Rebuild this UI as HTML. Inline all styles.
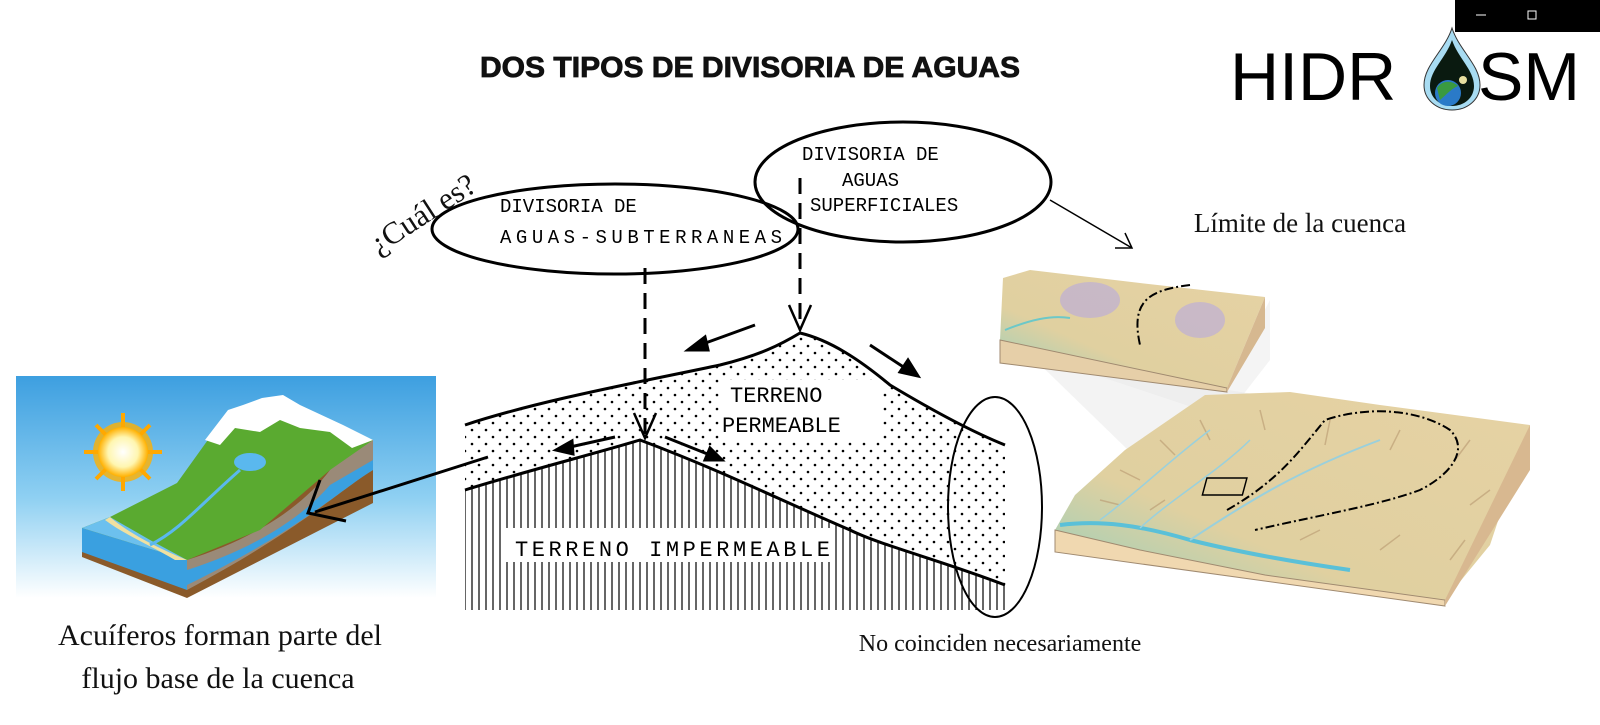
<!DOCTYPE html>
<html><head><meta charset="utf-8"><style>
html,body{margin:0;padding:0;background:#fff;width:1600px;height:725px;overflow:hidden}
svg{display:block}
</style></head><body>
<svg width="1600" height="725" viewBox="0 0 1600 725" xmlns="http://www.w3.org/2000/svg">
<defs>
<pattern id="dots" width="14" height="14" patternUnits="userSpaceOnUse">
<circle cx="3" cy="3" r="1.3" fill="#000"/><circle cx="10" cy="10" r="1.3" fill="#000"/>
</pattern>
<pattern id="vl" width="7" height="10" patternUnits="userSpaceOnUse">
<line x1="3" y1="0" x2="3" y2="10" stroke="#000" stroke-width="1.2"/>
</pattern>
<linearGradient id="sky" x1="0" y1="0" x2="0" y2="1">
<stop offset="0" stop-color="#3d9fe0"/><stop offset="0.55" stop-color="#8fd0f2"/><stop offset="1" stop-color="#ffffff"/>
</linearGradient>
<radialGradient id="sun"><stop offset="0" stop-color="#fff"/><stop offset="0.6" stop-color="#fff6b0"/><stop offset="1" stop-color="#ffb000"/></radialGradient>
<linearGradient id="terr" x1="0" y1="1" x2="1" y2="0">
<stop offset="0" stop-color="#8fd0c0"/><stop offset="0.35" stop-color="#e0d0a0"/><stop offset="1" stop-color="#e6d2a4"/>
</linearGradient>
</defs>

<rect x="1455" y="0" width="145" height="32" fill="#000"/>
<line x1="1476" y1="15" x2="1486" y2="15" stroke="#fff" stroke-width="1"/>
<rect x="1528" y="11" width="8" height="8" fill="none" stroke="#fff" stroke-width="1"/>

<text x="1230" y="100" font-family="Liberation Sans, sans-serif" font-size="68" fill="#000">HIDR</text>
<path d="M1452 28 C1445 50 1424 65 1424 85 C1424 100 1437 110 1452 110 C1467 110 1480 100 1480 85 C1480 65 1459 50 1452 28Z" fill="#a8dcf2" stroke="#333" stroke-width="1"/>
<path d="M1452 40 C1446 58 1430 70 1430 86 C1430 98 1440 106 1452 106 C1464 106 1474 98 1474 86 C1474 70 1458 58 1452 40Z" fill="#0a1a10"/>
<circle cx="1448" cy="93" r="13" fill="#2a7ac8"/><path d="M1437 88 C1442 80 1452 80 1458 86 C1452 88 1446 95 1440 100Z" fill="#3a9a40"/>
<circle cx="1463" cy="80" r="4" fill="#e8e0a0"/>
<text x="1478" y="100" font-family="Liberation Sans, sans-serif" font-size="68" fill="#000">SM</text>

<text x="750" y="77" text-anchor="middle" font-family="Liberation Sans, sans-serif" font-weight="bold" font-size="29" fill="#111" stroke="#111" stroke-width="0.8" textLength="540" lengthAdjust="spacingAndGlyphs">DOS TIPOS DE DIVISORIA DE AGUAS</text>

<rect x="16" y="376" width="420" height="222" fill="url(#sky)"/>
<circle cx="123" cy="452" r="30" fill="#ffb000" opacity="0.8"/>
<g stroke="#ffa800" stroke-width="4">
<line x1="123" y1="413" x2="123" y2="491"/><line x1="84" y1="452" x2="162" y2="452"/>
<line x1="96" y1="425" x2="150" y2="479"/><line x1="150" y1="425" x2="96" y2="479"/>
</g>
<circle cx="123" cy="452" r="25" fill="url(#sun)"/>
<polygon points="82,528 82,557 187,598 373,503 373,440 187,560" fill="#8a5a2a"/>
<polygon points="82,528 82,552 187,590 187,560" fill="#3aa0e0"/>
<path d="M187,560 C250,540 300,510 330,470 C345,450 360,445 373,440 L373,470 C340,490 300,530 187,590Z" fill="#9a8a78"/>
<path d="M187,570 C250,550 300,520 330,485 L373,460 L373,470 C340,490 300,530 187,585Z" fill="#3aa0e0"/>
<polygon points="82,528 110,517 177,483 210,437 243,407 283,397 343,427 373,440 330,470 260,530 187,560" fill="#5aaa30"/>
<polygon points="82,528 110,517 150,540 187,560" fill="#6cc0ee"/>
<path d="M110,517 C125,530 150,545 187,560 L175,560 C150,545 125,535 105,520Z" fill="#f0e0a0"/>
<polygon points="205,440 228,410 243,405 262,398 283,395 300,405 343,425 373,440 352,448 330,432 300,428 280,420 260,432 235,428 220,445" fill="#ffffff"/>
<ellipse cx="250" cy="462" rx="16" ry="9" fill="#5ab8ee"/>
<path d="M150,545 C180,530 200,505 240,470" stroke="#5ab8ee" stroke-width="3" fill="none"/>
<line x1="488" y1="457" x2="315" y2="512" stroke="#000" stroke-width="3"/>
<polyline points="320,480 308,513 346,521" fill="none" stroke="#000" stroke-width="3"/>

<text x="220" y="645" text-anchor="middle" font-family="Liberation Serif, serif" font-size="30" fill="#111">Acuíferos forman parte del</text>
<text x="218" y="688" text-anchor="middle" font-family="Liberation Serif, serif" font-size="30" fill="#111">flujo base de la cuenca</text>

<path d="M465,425 C540,400 650,380 720,365 C760,355 780,345 800,333 C830,340 860,360 890,385 C940,415 980,435 1005,445 L1005,585 C940,560 880,545 850,530 C780,500 720,470 640,440 C590,455 530,470 465,490Z" fill="url(#dots)"/>
<path d="M465,490 C530,470 590,455 640,440 C720,470 780,500 850,530 C880,545 940,560 1005,585 L1005,610 L465,610Z" fill="url(#vl)"/>
<path d="M465,425 C540,400 650,380 720,365 C760,355 780,345 800,333 C830,340 860,360 890,385 C940,415 980,435 1005,445" fill="none" stroke="#000" stroke-width="3"/>
<path d="M465,490 C530,470 590,455 640,440 C720,470 780,500 850,530 C880,545 940,560 1005,585" fill="none" stroke="#000" stroke-width="3"/>
<rect x="505" y="528" width="325" height="34" fill="#fff"/>
<text x="515" y="556" font-family="Liberation Mono, monospace" font-size="22" fill="#000" textLength="315" lengthAdjust="spacing">TERRENO  IMPERMEABLE</text>
<rect x="722" y="380" width="158" height="60" fill="#fff"/>
<text x="730" y="402" font-family="Liberation Mono, monospace" font-size="22" fill="#000">TERRENO</text>
<text x="722" y="432" font-family="Liberation Mono, monospace" font-size="22" fill="#000">PERMEABLE</text>
<g stroke="#000" stroke-width="3" fill="#000">
<line x1="755" y1="325" x2="700" y2="345"/><polygon points="688,350 705,337 708,350"/>
<line x1="870" y1="345" x2="905" y2="368"/><polygon points="918,376 900,372 908,360"/>
<line x1="615" y1="437" x2="570" y2="447"/><polygon points="556,450 572,441 573,454"/>
<line x1="665" y1="437" x2="710" y2="455"/><polygon points="722,460 705,460 710,448"/>
</g>
<line x1="645" y1="268" x2="645" y2="435" stroke="#000" stroke-width="3" stroke-dasharray="16,9"/>
<polyline points="634,413 645,438 656,413" fill="none" stroke="#000" stroke-width="2.5"/>
<line x1="800" y1="178" x2="800" y2="328" stroke="#000" stroke-width="3" stroke-dasharray="16,9"/>
<polyline points="789,305 800,330 811,305" fill="none" stroke="#000" stroke-width="2.5"/>

<ellipse cx="615" cy="229" rx="183" ry="45" fill="none" stroke="#000" stroke-width="3"/>
<text x="500" y="212" font-family="Liberation Mono, monospace" font-size="19" fill="#000">DIVISORIA   DE</text>
<text x="500" y="243" font-family="Liberation Mono, monospace" font-size="19" fill="#000" textLength="282">AGUAS-SUBTERRANEAS</text>
<ellipse cx="903" cy="182" rx="148" ry="60" fill="none" stroke="#000" stroke-width="3"/>
<text x="802" y="160" font-family="Liberation Mono, monospace" font-size="19" fill="#000">DIVISORIA  DE</text>
<text x="842" y="186" font-family="Liberation Mono, monospace" font-size="19" fill="#000">AGUAS</text>
<text x="810" y="211" font-family="Liberation Mono, monospace" font-size="19" fill="#000">SUPERFICIALES</text>

<text transform="translate(378,255) rotate(-33)" font-family="Liberation Serif, serif" font-size="31" fill="#111">¿Cuál es?</text>

<ellipse cx="995" cy="507" rx="47" ry="110" fill="none" stroke="#000" stroke-width="2"/>
<text x="1000" y="651" text-anchor="middle" font-family="Liberation Serif, serif" font-size="24" fill="#111">No coinciden necesariamente</text>

<text x="1300" y="232" text-anchor="middle" font-family="Liberation Serif, serif" font-size="27" fill="#111">Límite de la cuenca</text>
<line x1="1050" y1="200" x2="1132" y2="248" stroke="#000" stroke-width="1.5"/>
<polyline points="1115,248 1132,248 1125,233" fill="none" stroke="#000" stroke-width="1.5"/>

<polygon points="1020,350 1080,368 1225,386 1270,300 1270,360 1225,418" fill="#ececec" opacity="0.6"/>
<polygon points="1020,345 1228,390 1290,400 1200,520" fill="#e8e8e8" opacity="0.5"/>
<polygon points="1000,340 1003,278 1030,270 1140,283 1265,297 1227,388" fill="url(#terr)"/>
<polygon points="1000,340 1227,388 1227,392 1000,363" fill="#e6cfa8" stroke="#a08a70" stroke-width="1"/>
<polygon points="1227,388 1265,297 1265,328 1227,392" fill="#d6b890"/>
<ellipse cx="1090" cy="300" rx="30" ry="18" fill="#b8a8e0" opacity="0.6"/>
<ellipse cx="1200" cy="320" rx="25" ry="18" fill="#b8a8e0" opacity="0.6"/>
<path d="M1005,330 C1030,320 1050,315 1070,318" stroke="#6cc8c8" stroke-width="2" fill="none"/>
<path d="M1190,285 C1150,290 1130,300 1140,345" stroke="#000" stroke-width="2" stroke-dasharray="9,3,2,3" fill="none"/>

<polygon points="1055,530 1075,495 1125,450 1205,395 1290,392 1380,405 1530,425 1490,545 1445,600 1260,575 1140,552" fill="url(#terr)"/>
<g stroke="#b89870" stroke-width="1.5" opacity="0.6" fill="none">
<path d="M1120,470 l20,10 M1160,440 l15,15 M1200,420 l10,20 M1260,410 l5,20 M1330,420 l-5,25 M1400,430 l-10,20 M1470,440 l-15,20 M1490,490 l-20,15 M1100,500 l20,5 M1150,510 l15,-10 M1300,540 l20,-10 M1380,550 l20,-15 M1450,560 l15,-20"/>
</g>
<polygon points="1055,530 1140,550 1265,575 1445,600 1445,606 1055,552" fill="#f0d8b0" stroke="#a08a70" stroke-width="1"/>
<polygon points="1445,600 1530,425 1530,470 1445,606" fill="#d8b890"/>
<path d="M1060,525 C1100,520 1140,525 1190,540 C1230,550 1280,560 1350,570" stroke="#5ac0d8" stroke-width="4" fill="none"/>
<path d="M1190,540 C1250,500 1300,470 1380,440" stroke="#9ad0dc" stroke-width="2" fill="none"/>
<path d="M1100,520 C1140,490 1170,460 1210,430 M1140,528 C1170,500 1220,470 1250,440" stroke="#9ad0dc" stroke-width="1.5" fill="none"/>
<path d="M1227,510 C1280,480 1300,450 1325,420 C1370,405 1420,410 1450,430 C1470,450 1450,475 1420,490 C1380,505 1320,515 1255,530" stroke="#000" stroke-width="2" stroke-dasharray="9,3,2,3" fill="none"/>
<rect x="1205" y="478" width="40" height="17" fill="none" stroke="#000" stroke-width="1.5" transform="skewX(-15) translate(130,0)"/>
</svg>
</body></html>
